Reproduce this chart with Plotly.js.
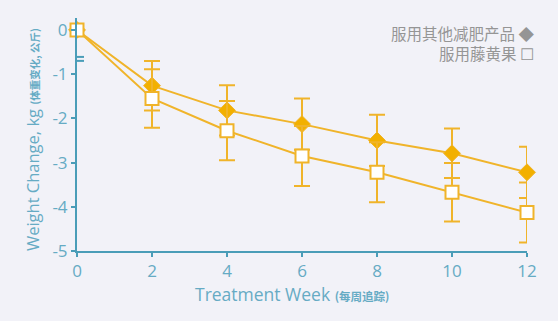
<!DOCTYPE html>
<html><head><meta charset="utf-8">
<script src="https://cdn.plot.ly/plotly-3.0.1.min.js"></script>
<style>html,body{margin:0;padding:0;background:#f2f2f8;}#chart{width:558px;height:321px;}</style>
</head><body><div id="chart"></div>
<script>
const weeks = [0, 2, 4, 6, 8, 10, 12];
const otherProducts = [0, -1.26, -1.82, -2.13, -2.50, -2.79, -3.22];
const otherErr = [0, 0.56, 0.57, 0.58, 0.58, 0.56, 0.58];
const garcinia = [0, -1.55, -2.28, -2.85, -3.22, -3.67, -4.13];
const garciniaErr = [0, 0.66, 0.67, 0.68, 0.68, 0.66, 0.68];
const legendLabels = ['服用其他减肥产品 ◆', '服用藤黄果 ☐'];
const xTitle = 'Treatment Week';
const xTitleCn = '(每周追踪)';
const yTitle = 'Weight Change, kg';
const yTitleCn = '(体重变化, 公斤)';
const xTicks = [0, 2, 4, 6, 8, 10, 12];
const yTicks = [0, -1, -2, -3, -4, -5];

const lineCol = '#f0b42a';
const axisCol = '#4a9db8';
const tickCol = '#66abc4';

const traces = [
  {x: weeks, y: otherProducts, type: 'scatter', mode: 'lines+markers', name: '服用其他减肥产品',
   line: {color: lineCol, width: 2},
   marker: {symbol: 'diamond', size: 13, color: '#f2b000', line: {color: lineCol, width: 1}},
   error_y: {type: 'data', array: otherErr, visible: true, color: lineCol, thickness: 2, width: 8},
   cliponaxis: false},
  {x: weeks, y: garcinia, type: 'scatter', mode: 'lines+markers', name: '服用藤黄果',
   line: {color: lineCol, width: 2},
   marker: {symbol: 'square', size: 13, color: '#ffffff', line: {color: lineCol, width: 2}},
   error_y: {type: 'data', array: garciniaErr, visible: true, color: lineCol, thickness: 2, width: 8},
   cliponaxis: false}
];

const layout = {
  width: 558, height: 321,
  paper_bgcolor: '#f2f2f8', plot_bgcolor: '#f2f2f8',
  margin: {l: 77, r: 31, t: 18, b: 70},
  showlegend: false,
  font: {family: '"Open Sans", "Noto Sans CJK SC", sans-serif', color: tickCol},
  xaxis: {
    range: [0, 12], tickvals: xTicks, ticktext: xTicks.map(String),
    showgrid: false, zeroline: false, showline: true, linecolor: axisCol, linewidth: 2,
    ticks: 'outside', ticklen: 4, tickcolor: axisCol, tickwidth: 2,
    tickfont: {size: 17, color: tickCol}
  },
  yaxis: {
    range: [-5, 0.27], tickvals: yTicks, ticktext: yTicks.map(String),
    showgrid: false, zeroline: false, showline: true, linecolor: axisCol, linewidth: 2,
    ticks: 'outside', ticklen: 4, tickcolor: axisCol, tickwidth: 2,
    tickfont: {size: 17, color: tickCol}
  },
  shapes: [
    {type: 'line', xref: 'x', yref: 'y', xsizemode: 'pixel', xanchor: 0, x0: -7, x1: 7, y0: -0.61, y1: -0.61, line: {color: axisCol, width: 2}},
    {type: 'line', xref: 'x', yref: 'y', xsizemode: 'pixel', xanchor: 0, x0: -7, x1: 7, y0: -0.70, y1: -0.70, line: {color: axisCol, width: 2}}
  ],
  annotations: [
    {xref: 'paper', yref: 'paper', x: 1.019, y: 0.936, xanchor: 'right', yanchor: 'middle', showarrow: false,
     text: legendLabels[0], font: {size: 15.5, color: '#959595', family: '"Noto Sans CJK SC", sans-serif'}},
    {xref: 'paper', yref: 'paper', x: 1.019, y: 0.85, xanchor: 'right', yanchor: 'middle', showarrow: false,
     text: legendLabels[1], font: {size: 15.5, color: '#959595', family: '"Noto Sans CJK SC", sans-serif'}},
    {xref: 'paper', yref: 'paper', x: 0.257, y: -0.186, xanchor: 'left', yanchor: 'middle', showarrow: false,
     text: xTitle + ' <span style="font-size:11.5px;font-weight:bold;font-family:Noto Sans CJK SC">' + xTitleCn + '</span>',
     font: {size: 17.5, color: tickCol}},
    {xref: 'paper', yref: 'paper', x: -0.1, y: 0.476, xanchor: 'center', yanchor: 'middle', showarrow: false, textangle: -90,
     text: yTitle + ' <span style="font-size:10.5px;font-weight:bold;font-family:Noto Sans CJK SC">' + yTitleCn + '</span>',
     font: {size: 16.5, color: tickCol}}
  ]
};

Plotly.newPlot('chart', traces, layout, {staticPlot: true, displayModeBar: false});
</script></body></html>
